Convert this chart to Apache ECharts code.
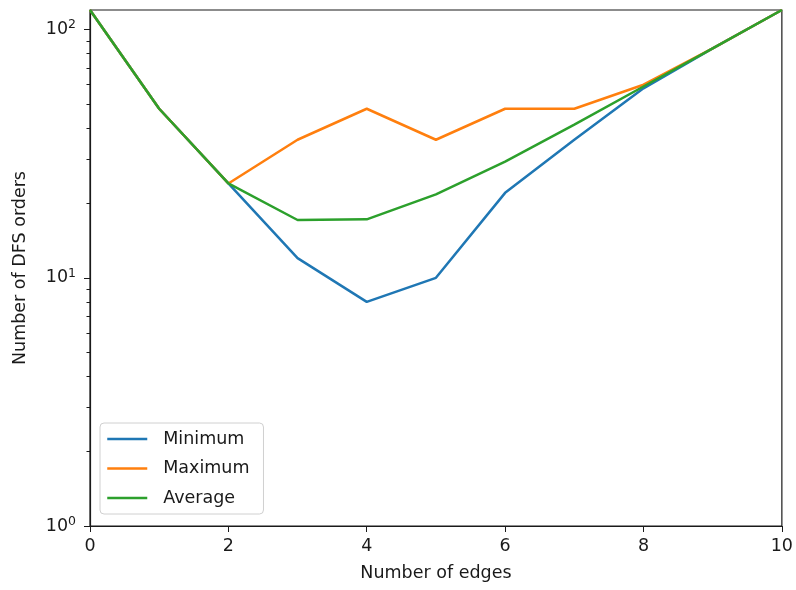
<!DOCTYPE html>
<html>
  <head>
    <meta charset="utf-8" />
    <title>DFS orders</title>
    <script src="https://cdn.jsdelivr.net/npm/echarts/dist/echarts.min.js"></script>
    <style>
      body { margin: 0; }
    </style>
  </head>
  <body>
    <div id="main" style="width: 796px; height: 590px;"></div>

    <script type="text/javascript">
      var myChart = echarts.init(document.getElementById('main'));

      // data
      const edges = [0, 1, 2, 3, 4, 5, 6, 7, 8, 9, 10];
      const minimum = [120, 48, 24, 12, 8, 10, 22, 36, 58, 84, 120];
      const maximum = [120, 48, 24, 36, 48, 36, 48, 48, 60, 84, 120];
      const average = [120, 48, 24, 17.1, 17.2, 21.7, 29.4, 41.4, 59, 84, 120];
      const xTicks = [0, 2, 4, 6, 8, 10];
      const yMajorTicks = [1, 10, 100];
      const yMinorTicks = [2, 3, 4, 5, 6, 7, 8, 9, 20, 30, 40, 50, 60, 70, 80, 90];

      const font = 'DejaVu Sans';
      const ink = '#1a1a1a';

      function pairs(ys) {
        return edges.map((x, i) => [x, ys[i]]);
      }

      function lineSeries(name, ys, color) {
        return {
          name: name,
          type: 'line',
          data: pairs(ys),
          symbol: 'none',
          lineStyle: { color: color, width: 2.5 },
          itemStyle: { color: color },
          z: name === 'Average' ? 4 : (name === 'Maximum' ? 3 : 2)
        };
      }

      let option = {
        animation: false,
        textStyle: { fontFamily: font, color: ink },
        grid: {
          left: 90, right: 14, top: 10, bottom: 64,
          show: true, borderColor: ink, borderWidth: 1.2, backgroundColor: '#fff'
        },
        legend: {
          orient: 'vertical',
          left: 100, top: 423,
          padding: [7, 14, 7, 6],
          itemWidth: 40, itemHeight: 18, itemGap: 11.5,
          backgroundColor: '#fff',
          borderColor: '#d0d0d0', borderWidth: 1, borderRadius: 4,
          // hide the circle that line series put in the legend icon
          itemStyle: { opacity: 0 },
          lineStyle: { width: 2.5 },
          textStyle: { fontFamily: font, fontSize: 17.5, color: ink, padding: [0, 0, 0, 11] },
          data: ['Minimum', 'Maximum', 'Average']
        },
        xAxis: {
          type: 'value',
          min: 0, max: 10, interval: 2,
          name: 'Number of edges',
          nameLocation: 'middle',
          nameGap: 38,
          nameTextStyle: { fontFamily: font, fontSize: 17.5, color: ink },
          axisLine: { lineStyle: { color: ink, width: 1.2 } },
          axisTick: { length: 6, lineStyle: { color: ink }, customValues: xTicks },
          axisLabel: { fontFamily: font, fontSize: 17.5, color: ink, margin: 11, customValues: xTicks },
          splitLine: { show: false }
        },
        yAxis: [
          {
            type: 'log',
            logBase: 10,
            min: 1, max: 120,
            name: 'Number of DFS orders',
            nameLocation: 'middle',
            nameGap: 61,
            nameTextStyle: { fontFamily: font, fontSize: 17.5, color: ink },
            axisLine: { show: true, lineStyle: { color: ink, width: 1.2 } },
            axisTick: { show: true, length: 6, lineStyle: { color: ink }, customValues: yMajorTicks },
            axisLabel: {
              margin: 14,
              customValues: yMajorTicks,
              formatter: function (v) {
                return '{b|10}{e|' + Math.round(Math.log10(v)) + '}';
              },
              rich: {
                b: { fontFamily: font, fontSize: 17.5, color: ink },
                e: { fontFamily: font, fontSize: 12.5, color: ink, padding: [0, 0, 9, 0] }
              }
            },
            splitLine: { show: false }
          },
          {
            // minor ticks only
            type: 'log',
            logBase: 10,
            min: 1, max: 120,
            position: 'left',
            axisLine: { show: false },
            axisTick: { show: true, length: 3.5, lineStyle: { color: ink }, customValues: yMinorTicks },
            axisLabel: { show: false },
            splitLine: { show: false }
          }
        ],
        series: [
          lineSeries('Minimum', minimum, '#1f77b4'),
          lineSeries('Maximum', maximum, '#ff7f0e'),
          lineSeries('Average', average, '#2ca02c')
        ]
      };

      myChart.setOption(option);
    </script>
  </body>
</html>
